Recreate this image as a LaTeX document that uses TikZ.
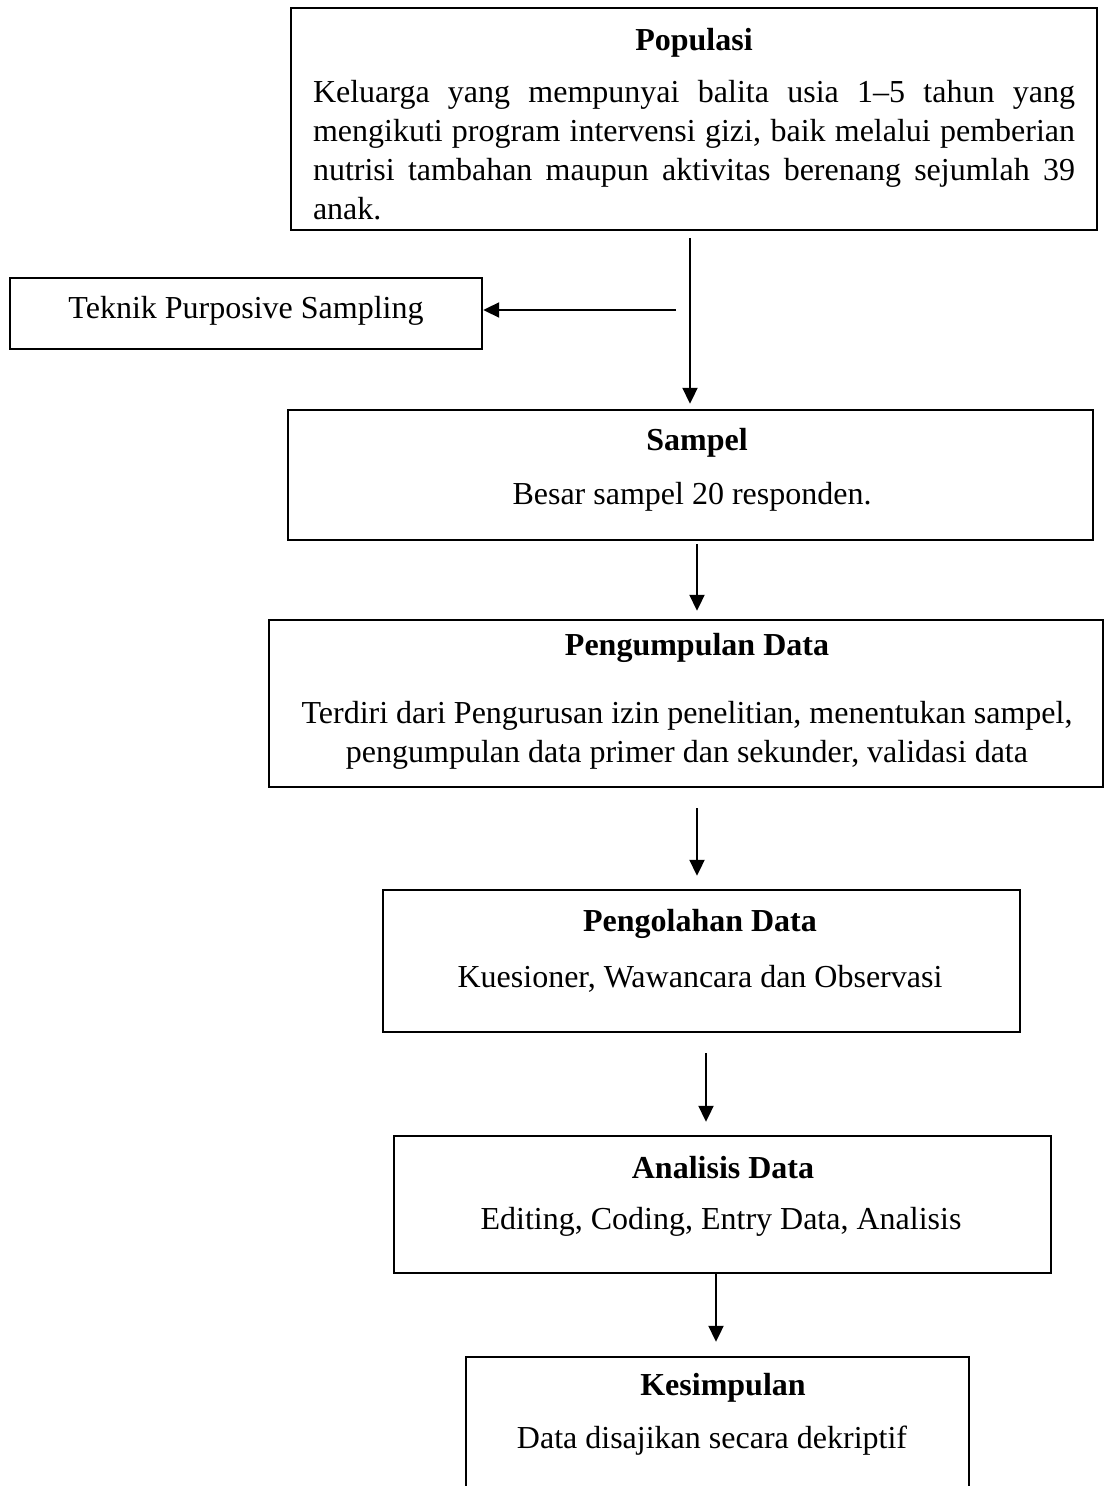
\documentclass[tikz,border=0pt]{standalone}
\usepackage{fontspec}
\setmainfont{Liberation Serif}
\usetikzlibrary{arrows.meta}
\tikzset{
  box/.style={draw, line width=1.2pt, rectangle, inner sep=0pt},
  arr/.style={line width=1pt, -{Triangle[length=8pt,width=7.5pt]}},
  ttl/.style={font=\fontsize{16}{19.5}\selectfont\bfseries, inner sep=0pt},
  txt/.style={font=\fontsize{16}{19.5}\selectfont, inner sep=0pt},
}
\begin{document}
\begin{tikzpicture}[x=0.5pt,y=-0.5pt]
\useasboundingbox (0,0) rectangle (1103,1486);
% boxes
\node[box, minimum width=403pt, minimum height=111pt] (pop) at (694,119) {};
\node[box, minimum width=236pt, minimum height=35.5pt] (tek) at (246,313.5) {};
\node[box, minimum width=402.5pt, minimum height=65pt] (sam) at (690.5,475) {};
\node[box, minimum width=417pt, minimum height=83.5pt] (pkd) at (686,703.5) {};
\node[box, minimum width=318.5pt, minimum height=71pt] (pgl) at (701.5,961) {};
\node[box, minimum width=328.5pt, minimum height=68.5pt] (ana) at (722.5,1204.5) {};
\node[box, minimum width=251.5pt, minimum height=80pt] (kes) at (717.5,1437) {};
% texts
\node[ttl] (popt) at (694,43) {Populasi};
\node[txt, text width=381pt, align=justify] (popb) at (694,150) {Keluarga yang mempunyai balita usia 1–5 tahun yang\linebreak mengikuti program intervensi gizi, baik melalui pemberian\linebreak nutrisi tambahan maupun aktivitas berenang sejumlah 39\linebreak anak.};
\node[txt] (tekt) at (246,311) {Teknik Purposive Sampling};
\node[ttl] (samt) at (697,443) {Sampel};
\node[txt] (samb) at (692,497) {Besar sampel 20 responden.};
\node[ttl] (pkdt) at (697,648) {Pengumpulan Data};
\node[txt, align=center] (pkdb) at (687,735) {Terdiri dari Pengurusan izin penelitian, menentukan sampel,\\pengumpulan data primer dan sekunder, validasi data};
\node[ttl] (pglt) at (700,924) {Pengolahan Data};
\node[txt] (pglb) at (700,979) {Kuesioner, Wawancara dan Observasi};
\node[ttl] (anat) at (723,1168) {Analisis Data};
\node[txt] (anab) at (721,1222) {Editing, Coding, Entry Data, Analisis};
\node[ttl] (kest) at (723,1388) {Kesimpulan};
\node[txt] (kesb) at (712,1441) {Data disajikan secara dekriptif};
% connectors
\coordinate (c1) at (690,0);
\coordinate (c2) at (697,0);
\coordinate (c3) at (706,0);
\coordinate (c4) at (716,0);
\coordinate (j1) at (676,310);
\draw[arr, shorten <=3.5pt, shorten >=2.5pt] (pop.south -| c1) -- (sam.north -| c1);
\draw[arr] (j1) -- (tek.east |- j1);
\draw[arr, shorten <=1.5pt, shorten >=4pt] (sam.south -| c2) -- (pkd.north -| c2);
\draw[arr, shorten <=10pt, shorten >=6.5pt] (pkd.south -| c2) -- (pgl.north -| c2);
\draw[arr, shorten <=10pt, shorten >=6.5pt] (pgl.south -| c3) -- (ana.north -| c3);
\draw[arr, shorten >=7pt] (ana.south -| c4) -- (kes.north -| c4);
\end{tikzpicture}
\end{document}
